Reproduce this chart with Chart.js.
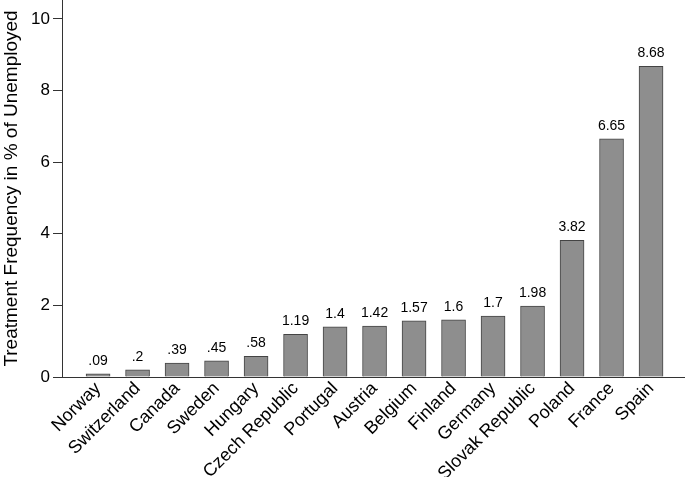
<!DOCTYPE html>
<html>
<head>
<meta charset="utf-8">
<script src="https://cdn.jsdelivr.net/npm/chart.js@4"></script>
<style>
  body { margin: 0; background: #fff; }
  #wrap { width: 685px; height: 477px; }
</style>
</head>
<body>
<div id="wrap"><canvas id="chart" width="685" height="477"></canvas></div>
<script>
// Data
const countries = ['Norway', 'Switzerland', 'Canada', 'Sweden', 'Hungary', 'Czech Republic',
    'Portugal', 'Austria', 'Belgium', 'Finland', 'Germany', 'Slovak Republic', 'Poland', 'France', 'Spain'];
const frequency = [0.09, 0.2, 0.39, 0.45, 0.58, 1.19, 1.4, 1.42, 1.57, 1.6, 1.7, 1.98, 3.82, 6.65, 8.68];
const yTicks = [0, 2, 4, 6, 8, 10];

const FONT = "'Liberation Sans', Arial, Helvetica, sans-serif";

// Stata style value labels: ".09" instead of "0.09"
function stataLabel(v) {
    let s = String(v);
    if (s.startsWith('0.')) s = s.slice(1);
    return s;
}

const valueLabels = {
    id: 'valueLabels',
    afterDatasetsDraw(chart) {
        const ctx = chart.ctx;
        const meta = chart.getDatasetMeta(0);
        ctx.save();
        ctx.font = '14px ' + FONT;
        ctx.fillStyle = '#000';
        ctx.textAlign = 'center';
        ctx.textBaseline = 'alphabetic';
        meta.data.forEach((bar, i) => {
            ctx.fillText(stataLabel(frequency[i]), bar.x, bar.y - 9);
        });
        ctx.restore();
    }
};

new Chart(document.getElementById('chart'), {
    type: 'bar',
    data: {
        datasets: [{
            data: frequency.map((v, i) => ({ x: i, y: v })),
            backgroundColor: '#8e8e8e',
            borderColor: '#444',
            borderWidth: 1,
            borderSkipped: 'bottom',
            barThickness: 24
        }]
    },
    options: {
        responsive: false,
        animation: false,
        layout: { padding: 0 },
        plugins: {
            legend: { display: false },
            tooltip: { enabled: false }
        },
        scales: {
            x: {
                type: 'linear',
                offset: false,
                min: -0.913,
                max: 14.86,
                grid: { display: false },
                border: { display: true, color: '#333', width: 1 },
                afterBuildTicks: (scale) => {
                    scale.ticks = countries.map((c, i) => ({ value: i }));
                },
                afterFit: (scale) => {
                    scale.height = 100;
                    scale.paddingLeft = 0;
                    scale.paddingRight = 0;
                },
                ticks: {
                    autoSkip: false,
                    minRotation: 45,
                    maxRotation: 45,
                    padding: -7,
                    color: '#000',
                    font: { family: FONT, size: 18 },
                    callback: (value) => countries[value]
                }
            },
            y: {
                min: 0,
                max: 10.53,
                grid: { drawOnChartArea: false, drawTicks: true, tickLength: 9, color: '#333' },
                border: { display: true, color: '#333', width: 1 },
                afterBuildTicks: (scale) => {
                    scale.ticks = yTicks.map(v => ({ value: v }));
                },
                afterFit: (scale) => {
                    scale.width = 62;
                    scale.paddingTop = 0;
                    scale.paddingBottom = 0;
                },
                ticks: {
                    padding: 3,
                    color: '#000',
                    font: { family: FONT, size: 17 }
                },
                title: {
                    display: true,
                    text: 'Treatment Frequency in % of Unemployed',
                    color: '#000',
                    padding: { top: 0, bottom: 0 },
                    font: { family: FONT, size: 19 }
                }
            }
        }
    },
    plugins: [valueLabels]
});
</script>
</body>
</html>
